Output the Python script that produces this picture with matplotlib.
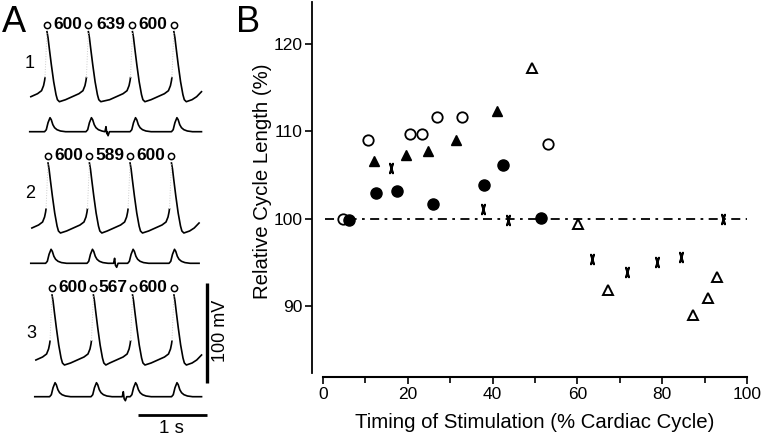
import matplotlib
matplotlib.use("Agg")
import matplotlib.pyplot as plt
from matplotlib.path import Path

plt.rcParams["font.family"] = ["Liberation Sans", "DejaVu Sans"]

# ---------------- panel B data (timing % vs relative cycle length %) ----------------
open_circle_x = [4.7, 10.5, 20.5, 23.4, 26.8, 32.7, 53.0]
open_circle_y = [100.0, 109.0, 109.7, 109.7, 111.7, 111.7, 108.6]
filled_circle_x = [6.2, 12.5, 17.4, 26.0, 37.9, 42.5, 51.4]
filled_circle_y = [99.9, 103.0, 103.2, 101.7, 103.9, 106.2, 100.1]
filled_tri_x = [12.0, 19.5, 24.7, 31.4, 41.1]
filled_tri_y = [106.6, 107.3, 107.8, 109.0, 112.3]
open_tri_x = [49.4, 60.2, 67.3, 87.2, 90.9, 93.0]
open_tri_y = [117.3, 99.4, 91.8, 89.0, 90.9, 93.3]
cross_x = [16.0, 37.7, 43.7, 63.4, 71.6, 78.8, 84.5, 94.4]
cross_y = [105.8, 101.1, 99.9, 95.4, 93.9, 95.0, 95.6, 100.0]

# ---------------- panel A data (three recordings) ----------------
cycle_lengths = [[600, 639, 600], [600, 589, 600], [600, 567, 600]]
first_peak_ms = [681, 696, 754]
stim_delay_ms = [255, 365, 433]  # stimulus after the 2nd beat

repol_t = [0, 15, 34, 63, 97, 131, 151, 180]
repol_v = [70, 64, 53, 37, 20, 7, 2, 0]
# diastolic depolarisation, ms before the next peak
diast_t = [-331, -234, -137, -79, -50, -35, -29]
diast_v = [2, 5, 8, 11, 16, 21, 24]
# end of each trace after the last beat
tail_t = [263, 330, 400]
tail_v = [2, 5, 10]
# contraction trace, ms after AP peak
twitch_t = [-35, -10, 15, 44, 62, 85, 110, 145, 195, 270]
twitch_v = [0, 2, 9, 14, 12, 7, 4, 2, 0.7, 0]
artifact_t = [-15, 0, 12, 30, 50]
artifact_v = [0, 5, -2, -4, 0]

PX_PER_MS = 0.069
ap_base = [334.3, 203, 71]
twitch_base = [304.3, 172.7, 39.3]

fig = plt.figure(figsize=(7.62, 4.36), dpi=100)

# ---------------- panel A ----------------
ax_a = fig.add_axes([0, 0, 240 / 762, 1])
ax_a.set_xlim(0, 240 / PX_PER_MS)
ax_a.set_ylim(0, 436)
ax_a.axis("off")

for r in range(3):
    peaks = [first_peak_ms[r]]
    for cl in cycle_lengths[r]:
        peaks.append(peaks[-1] + cl)
    base = ap_base[r]

    # pre-first-beat segment
    ax_a.plot([peaks[0] + t for t in diast_t[1:]], [base + v for v in diast_v[1:]],
              color="k", lw=1.2)
    for i, p in enumerate(peaks):
        ts = [p + t for t in repol_t]
        vs = [base + v for v in repol_v]
        if i < len(peaks) - 1:
            ts += [peaks[i + 1] + t for t in diast_t]
            vs += [base + v for v in diast_v]
        else:
            ts += [p + t for t in tail_t]
            vs += [base + v for v in tail_v]
        ax_a.plot(ts, vs, color="k", lw=1.2)
        # faint upstroke
        ax_a.plot([p + diast_t[-1], p], [base + diast_v[-1], base + repol_v[0]],
                  color="0.8", lw=0.7, ls=":")

    # circles and cycle lengths
    ax_a.plot(peaks, [base + 77] * len(peaks), "o", mfc="white", mec="k",
              ms=4.5, mew=1.1)
    for i, cl in enumerate(cycle_lengths[r]):
        ax_a.text((peaks[i] + peaks[i + 1]) / 2, base + 77, str(cl),
                  fontsize=12.5, fontweight="bold", ha="center", va="center")

    # contraction trace
    pts = [(peaks[0] - 250, 0), (peaks[-1] + 400, 0)]
    for p in peaks:
        pts += [(p + t, v) for t, v in zip(twitch_t, twitch_v)]
    s = peaks[1] + stim_delay_ms[r]
    pts += [(s + t, v) for t, v in zip(artifact_t, artifact_v)]
    pts.sort()
    ax_a.plot([q[0] for q in pts], [twitch_base[r] + q[1] for q in pts],
              color="k", lw=1.2)

# scale bars
ax_a.plot([2996, 2996], [53, 153], color="k", lw=2.4, solid_capstyle="butt")
ax_a.plot([1996, 2996], [21, 21], color="k", lw=2, solid_capstyle="butt")

fig.text(220 / 762, 1 - 331 / 436, "100 mV", rotation=90, fontsize=13,
         ha="center", va="center")
fig.text(171.7 / 762, 1 - 428 / 436, "1 s", fontsize=13.5, ha="center", va="center")
for lab, (px, py) in zip(["1", "2", "3"], [(30, 63), (30, 193), (31, 333)]):
    fig.text(px / 762, 1 - py / 436, lab, fontsize=13, ha="center", va="center")
fig.text(14 / 762, 1 - 22 / 436, "A", fontsize=26, ha="center", va="center")
fig.text(248 / 762, 1 - 22 / 436, "B", fontsize=26, ha="center", va="center")

# ---------------- panel B ----------------
ax_b = fig.add_axes([312 / 762, 1 - 377 / 436, 435 / 762, 375 / 436])
ax_b.set_xlim(-2.6, 100)
ax_b.set_ylim(81.9, 124.8)
ax_b.spines[["top", "right"]].set_visible(False)
ax_b.spines["bottom"].set_bounds(0, 100)
ax_b.spines["left"].set_bounds(82.4, 124.8)
ax_b.spines["bottom"].set_linewidth(1.5)
ax_b.spines["left"].set_linewidth(1.3)
ax_b.set_xticks([0, 20, 40, 60, 80, 100])
ax_b.set_xticks([10, 30, 50, 70, 90], minor=True)
ax_b.set_yticks([90, 100, 110, 120])
ax_b.tick_params(direction="out", length=5, width=1.2, labelsize=12.5, pad=2)
ax_b.tick_params(which="minor", direction="out", length=4, width=1.2)

ax_b.plot([0.5, 100], [100, 100], color="k", lw=1.3, ls=(0, (5, 3, 1.5, 3)))

cross_marker = Path(
    [(-0.3, 1), (0.3, -1), (0.3, 1), (-0.3, -1),
     (-0.55, 1), (-0.1, 1), (0.1, 1), (0.55, 1),
     (-0.55, -1), (-0.1, -1), (0.1, -1), (0.55, -1)],
    [Path.MOVETO, Path.LINETO] * 6)

ax_b.plot(open_circle_x, open_circle_y, "o", mfc="white", mec="k", ms=7.5, mew=1.3, ls="none")
ax_b.plot(filled_circle_x, filled_circle_y, "o", color="k", ms=8, ls="none")
ax_b.plot(filled_tri_x, filled_tri_y, "^", color="k", ms=7.5, ls="none")
ax_b.plot(open_tri_x, open_tri_y, "^", mfc="white", mec="k", ms=7, mew=1.4, ls="none")
ax_b.plot(cross_x, cross_y, marker=cross_marker, color="k", ms=6.5, mew=1.6, ls="none")

fig.text(534.5 / 762, 1 - 422 / 436, "Timing of Stimulation (% Cardiac Cycle)",
         fontsize=14.7, ha="center", va="center")
fig.text(262 / 762, 1 - 181 / 436, "Relative Cycle Length (%)", rotation=90,
         fontsize=14.7, ha="center", va="center")

fig.savefig("out.png", dpi=100)
